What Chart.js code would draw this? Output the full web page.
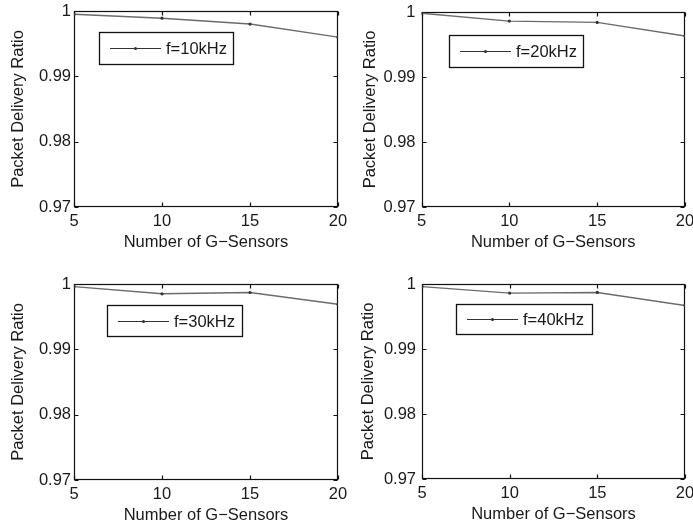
<!DOCTYPE html>
<html>
<head>
<meta charset="utf-8">
<title>Packet Delivery Ratio vs. Number of G-Sensors</title>
<script src="https://cdn.jsdelivr.net/npm/chart.js@4.4.1/dist/chart.umd.min.js"></script>
<style>
  html, body { margin: 0; padding: 0; background: #fff; }
  #figure { position: relative; width: 693px; height: 528px; }
  #figure canvas { position: absolute; left: 0; top: 0; }
</style>
</head>
<body>
<div id="figure">
  <canvas id="pdr10" width="693" height="528"></canvas>
  <canvas id="pdr20" width="693" height="528"></canvas>
  <canvas id="pdr30" width="693" height="528"></canvas>
  <canvas id="pdr40" width="693" height="528"></canvas>
</div>
<script>
// x: number of G-sensors, y: packet delivery ratio per sampling frequency
const sensorCounts = [5, 10, 15, 20];
const ratioTicks = [0.97, 0.98, 0.99, 1];
const pdr10kHz = [0.9995, 0.9989, 0.9980, 0.9960];
const pdr20kHz = [0.9998, 0.9986, 0.9984, 0.9963];
const pdr30kHz = [0.9996, 0.9985, 0.9987, 0.9969];
const pdr40kHz = [0.9996, 0.9986, 0.9987, 0.9967];
const freqLabels = ['f=10kHz', 'f=20kHz', 'f=30kHz', 'f=40kHz'];

const FONT = "'Liberation Sans', Arial, Helvetica, sans-serif";
const FONT_SIZE = 16.5;
const LINE_HEIGHT = 1.2;
const X_AXIS_HEIGHT = 45;
const TEXT_COLOR = '#1a1a1a';

// plot box edges, y-title centre, gap between y labels and axis, legend box
const panels = [
  { id: 'pdr10', values: pdr10kHz, label: freqLabels[0],
    area: { left: 74, top: 11, right: 338, bottom: 207 }, yTitleX: 18, yGap: 3,
    legend: { x: 99, y: 32, w: 134, h: 32 } },
  { id: 'pdr20', values: pdr20kHz, label: freqLabels[1],
    area: { left: 421.5, top: 12, right: 685, bottom: 207 }, yTitleX: 370, yGap: 6,
    legend: { x: 449, y: 35, w: 134, h: 32 } },
  { id: 'pdr30', values: pdr30kHz, label: freqLabels[2],
    area: { left: 74, top: 284, right: 338, bottom: 480 }, yTitleX: 18, yGap: 3,
    legend: { x: 107, y: 305, w: 135, h: 31 } },
  { id: 'pdr40', values: pdr40kHz, label: freqLabels[3],
    area: { left: 422, top: 284, right: 685, bottom: 479 }, yTitleX: 368, yGap: 6,
    legend: { x: 456, y: 304, w: 136, h: 30 } }
];

// box around the plot with short inward ticks on all four sides
const matlabFrame = {
  id: 'matlabFrame',
  beforeDatasetsDraw(chart) {
    const { ctx, chartArea: a, scales: { x, y } } = chart;
    const tick = 4;
    const l = Math.round(a.left) + 0.5, r = Math.round(a.right) - 0.5;
    const t = Math.round(a.top) + 0.5, b = Math.round(a.bottom) - 0.5;
    ctx.save();
    ctx.strokeStyle = '#111';
    ctx.lineWidth = 1.2;
    ctx.beginPath();
    x.ticks.forEach(tk => {
      const px = Math.round(x.getPixelForValue(tk.value)) + 0.5;
      ctx.moveTo(px, t); ctx.lineTo(px, t + tick);
      ctx.moveTo(px, b); ctx.lineTo(px, b - tick);
    });
    y.ticks.forEach(tk => {
      const py = Math.round(y.getPixelForValue(tk.value)) + 0.5;
      ctx.moveTo(l, py); ctx.lineTo(l + tick, py);
      ctx.moveTo(r, py); ctx.lineTo(r - tick, py);
    });
    ctx.stroke();
    ctx.strokeRect(l, t, r - l, b - t);
    ctx.restore();
  }
};

// legend drawn as a framed box inside the plot
const boxLegend = {
  id: 'boxLegend',
  afterDraw(chart, args, opts) {
    const { ctx } = chart;
    const ds = chart.data.datasets[0];
    const { x, y, w, h } = opts;
    const midY = Math.round(y + h / 2) + 0.5;
    ctx.save();
    ctx.fillStyle = '#fff';
    ctx.fillRect(x, y, w, h);
    ctx.strokeStyle = '#111';
    ctx.lineWidth = 1.3;
    ctx.strokeRect(x + 0.5, y + 0.5, w, h);
    ctx.strokeStyle = '#333';
    ctx.lineWidth = 1.2;
    ctx.beginPath();
    ctx.moveTo(x + 11, midY);
    ctx.lineTo(x + 62, midY);
    ctx.stroke();
    ctx.fillStyle = ds.pointBackgroundColor;
    ctx.beginPath();
    ctx.arc(x + 36.5, midY, ds.pointRadius, 0, Math.PI * 2);
    ctx.fill();
    ctx.fillStyle = TEXT_COLOR;
    ctx.font = FONT_SIZE + 'px ' + FONT;
    ctx.textBaseline = 'middle';
    ctx.textAlign = 'left';
    ctx.fillText(ds.label, x + 67, midY + 1);
    ctx.restore();
  }
};

function zeroPadding(scale) {
  scale.paddingTop = 0;
  scale.paddingBottom = 0;
  scale.paddingLeft = 0;
  scale.paddingRight = 0;
}

function drawPanel(p) {
  const font = { family: FONT, size: FONT_SIZE, lineHeight: LINE_HEIGHT };
  const padLeft = p.yTitleX - FONT_SIZE * LINE_HEIGHT / 2;
  new Chart(document.getElementById(p.id), {
    type: 'line',
    data: {
      datasets: [{
        label: p.label,
        data: sensorCounts.map((n, i) => ({ x: n, y: p.values[i] })),
        borderColor: '#6b6b6b',
        borderWidth: 1.4,
        pointRadius: 1.6,
        pointBackgroundColor: '#333',
        pointBorderWidth: 0,
        tension: 0
      }]
    },
    options: {
      responsive: false,
      animation: false,
      devicePixelRatio: 1,
      events: [],
      layout: {
        padding: {
          left: padLeft,
          top: p.area.top,
          right: 693 - p.area.right,
          bottom: 528 - p.area.bottom - X_AXIS_HEIGHT
        }
      },
      plugins: {
        legend: { display: false },
        tooltip: { enabled: false },
        boxLegend: p.legend
      },
      scales: {
        x: {
          type: 'linear',
          min: 5,
          max: 20,
          grid: { display: false, drawTicks: false, tickLength: 0 },
          border: { display: false },
          afterBuildTicks: s => { s.ticks = sensorCounts.map(v => ({ value: v })); },
          ticks: { color: TEXT_COLOR, font, padding: 5, maxRotation: 0, autoSkip: false,
                   callback: v => String(v) },
          title: { display: true, text: 'Number of G\u2212Sensors', color: TEXT_COLOR, font,
                   padding: { top: 0, bottom: 0 } },
          afterFit: s => { s.height = X_AXIS_HEIGHT; zeroPadding(s); }
        },
        y: {
          type: 'linear',
          min: 0.97,
          max: 1,
          grid: { display: false, drawTicks: false, tickLength: 0 },
          border: { display: false },
          afterBuildTicks: s => { s.ticks = ratioTicks.map(v => ({ value: v })); },
          ticks: { color: TEXT_COLOR, font, padding: p.yGap,
                   callback: v => String(Number(v.toFixed(2))) },
          title: { display: true, text: 'Packet Delivery Ratio', color: TEXT_COLOR, font,
                   padding: { top: 0, bottom: 0 } },
          afterFit: s => { s.width = p.area.left - padLeft; zeroPadding(s); }
        }
      }
    },
    plugins: [matlabFrame, boxLegend]
  });
}

panels.forEach(drawPanel);
</script>
</body>
</html>
